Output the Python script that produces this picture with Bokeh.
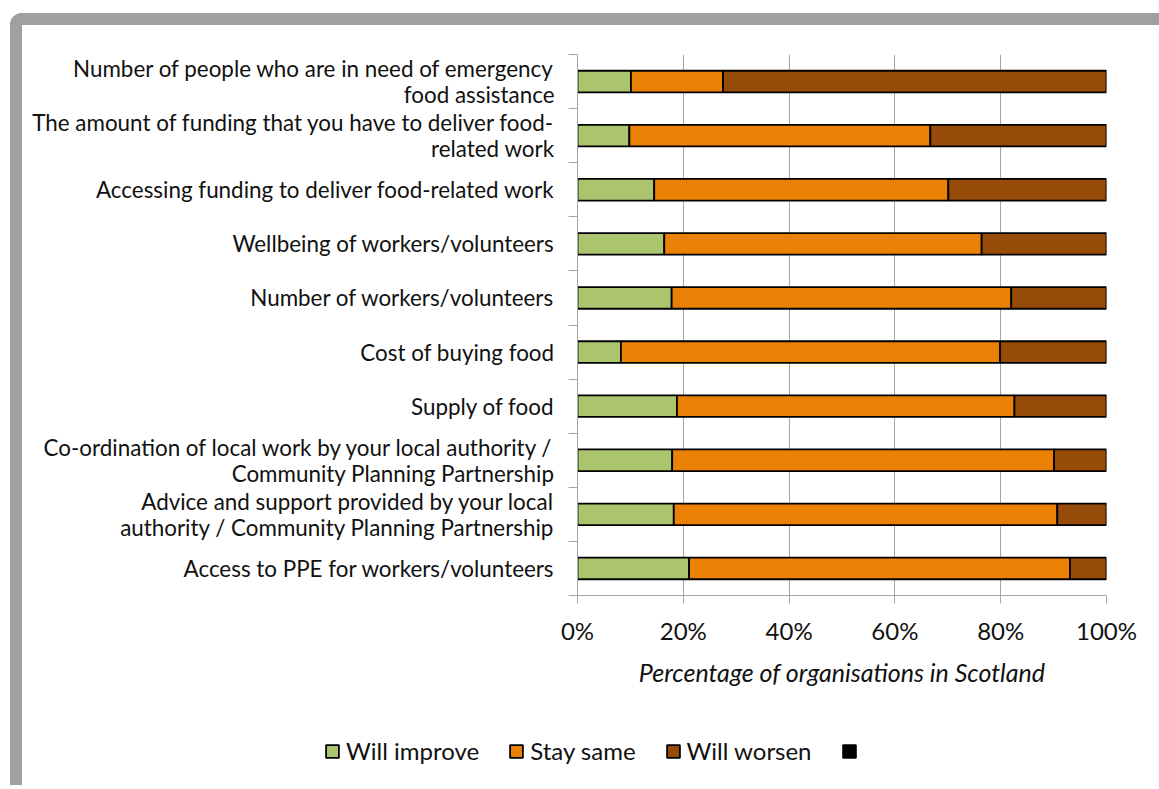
from bokeh.plotting import figure
from bokeh.layouts import column
from bokeh.models import (Range1d, FixedTicker, NumeralTickFormatter, Legend, LegendItem,
                          ColumnDataSource)
from bokeh.embed import file_html
from bokeh.resources import INLINE

# ---- data (top to bottom, percentages) ----
categories = [
    "Number of people who are in need of emergency\nfood assistance",
    "The amount of funding that you have to deliver food-\nrelated work",
    "Accessing funding to deliver food-related work",
    "Wellbeing of workers/volunteers",
    "Number of workers/volunteers",
    "Cost of buying food",
    "Supply of food",
    "Co-ordination of local work by your local authority /\nCommunity Planning Partnership",
    "Advice and support provided by your local\nauthority / Community Planning Partnership",
    "Access to PPE for workers/volunteers",
]
will_improve = [10.1, 9.8, 14.5, 16.4, 17.8, 8.2, 18.8, 17.9, 18.2, 21.1]
stay_same = [17.4, 56.9, 55.6, 60.0, 64.2, 71.7, 63.8, 72.2, 72.5, 72.0]
will_worsen = [72.5, 33.3, 29.9, 23.6, 18.0, 20.1, 17.4, 9.9, 9.3, 6.9]
series_names = ["Will improve", "Stay same", "Will worsen"]
x_ticks = [0, 0.2, 0.4, 0.6, 0.8, 1.0]

colors = ["#abc56e", "#eb8104", "#974b09"]
FONT = "Lato"
GRAY = "#a6a6a6"
TEXT = "#111111"

n = len(categories)
ypos = [n - 1 - i for i in range(n)]
source = ColumnDataSource(dict(
    y=ypos,
    improve=[v / 100 for v in will_improve],
    same=[v / 100 for v in stay_same],
    worsen=[v / 100 for v in will_worsen],
))
cols = ["improve", "same", "worsen"]

# canvas of main figure starts at page (22, 25) because of the framed wrapper
W, H = 1137, 670
p = figure(width=W, height=H, output_backend="svg", toolbar_location=None,
           x_range=Range1d(0, 1), y_range=Range1d(-0.5, n - 0.5),
           min_border_left=555, min_border_right=53, min_border_top=29, min_border_bottom=100)
p.outline_line_color = None
p.background_fill_color = "white"
p.border_fill_color = "white"

p.hbar_stack(cols, y="y", height=0.4, source=source,
             fill_color=colors, line_color="black", line_width=1.8)

# x axis
xa = p.xaxis[0]
xa.ticker = FixedTicker(ticks=x_ticks)
xa.formatter = NumeralTickFormatter(format="0%")
xa.axis_line_color = GRAY
xa.major_tick_line_color = GRAY
xa.major_tick_out = 8
xa.major_tick_in = 0
xa.minor_tick_line_color = None
xa.major_label_text_font = FONT
xa.major_label_text_font_size = "24px"
xa.major_label_text_color = TEXT
xa.major_label_standoff = 12
xa.axis_label = "Percentage of organisations in Scotland"
xa.axis_label_text_font = FONT
xa.axis_label_text_font_size = "25px"
xa.axis_label_text_font_style = "italic"
xa.axis_label_text_color = TEXT
xa.axis_label_standoff = 9

# y axis
ya = p.yaxis[0]
ya.ticker = FixedTicker(ticks=ypos, minor_ticks=[k - 0.5 for k in range(n + 1)])
ya.major_label_overrides = {ypos[i]: categories[i] for i in range(n)}
ya.axis_line_color = GRAY
ya.major_tick_line_color = None
ya.major_tick_out = 0
ya.major_tick_in = 0
ya.minor_tick_line_color = GRAY
ya.minor_tick_out = 9
ya.minor_tick_in = 0
ya.major_label_standoff = 14
ya.major_label_text_font = FONT
ya.major_label_text_font_size = "22.4px"
ya.major_label_text_color = TEXT
ya.major_label_text_align = "right"
ya.major_label_text_line_height = 0.97

p.xgrid.ticker = FixedTicker(ticks=x_ticks)
p.xgrid.grid_line_color = GRAY
p.ygrid.grid_line_color = None

# legend figure (below main figure); its renderers are hidden, only the legend shows
lf = figure(width=W, height=90, output_backend="svg", toolbar_location=None,
            x_range=Range1d(0, 1), y_range=Range1d(-0.5, n - 0.5),
            x_axis_location=None, y_axis_location=None,
            min_border=0, min_border_left=0, min_border_right=0,
            min_border_top=0, min_border_bottom=0)
lf.outline_line_color = None
lf.xgrid.grid_line_color = None
lf.ygrid.grid_line_color = None
leg_rs = lf.hbar_stack(cols, y="y", height=0.4, source=source, fill_color=colors,
                       line_color="black", line_width=1.8, visible=False)
blank = lf.hbar(y="y", right="improve", height=0.4, source=source, fill_color="black",
                line_color="black", line_width=1.8, visible=False)
items = [LegendItem(label=series_names[i], renderers=[leg_rs[i]]) for i in range(3)]
items.append(LegendItem(label=" ", renderers=[blank]))
legend = Legend(items=items, orientation="horizontal", location=(302, 20),
                label_text_font=FONT, label_text_font_size="24px", label_text_color=TEXT,
                glyph_width=16, glyph_height=16, label_standoff=6, spacing=29,
                padding=0, margin=0, border_line_color=None, background_fill_alpha=0,
                inactive_fill_alpha=0)
lf.add_layout(legend, "center")

layout = column(p, column(lf), spacing=0, styles={
    "margin-left": "10px", "margin-top": "13px",
    "border-left": "12px solid #a0a0a0", "border-top": "12px solid #a0a0a0",
    "border-top-left-radius": "12px",
})

open("out.html", "w").write(file_html(layout, INLINE))
